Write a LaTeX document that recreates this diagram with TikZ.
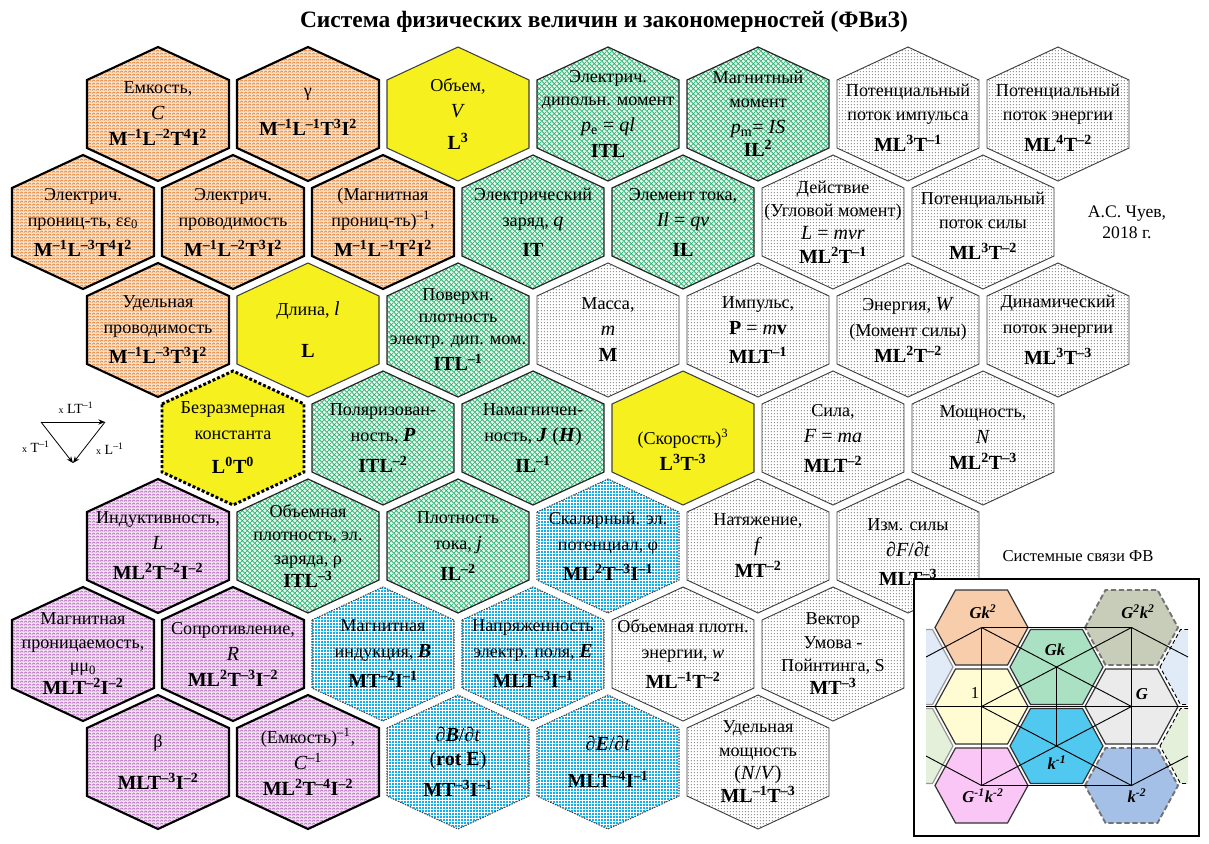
\documentclass[tikz,border=0pt]{standalone}
\usepackage{fontspec}
\setmainfont{Liberation Serif}
\usetikzlibrary{patterns,arrows.meta}

\pgfdeclarepatternformonly{zigzag}{\pgfqpoint{0pt}{0pt}}{\pgfqpoint{3pt}{2.4pt}}{\pgfqpoint{3pt}{2.4pt}}{%
  \pgfsetlinewidth{0.45pt}%
  \pgfpathmoveto{\pgfqpoint{0pt}{0.5pt}}%
  \pgfpathlineto{\pgfqpoint{1.5pt}{1.9pt}}%
  \pgfpathlineto{\pgfqpoint{3pt}{0.5pt}}%
  \pgfusepath{stroke}}
\pgfdeclarepatternformonly{finedots}{\pgfqpoint{0pt}{0pt}}{\pgfqpoint{2.4pt}{2.4pt}}{\pgfqpoint{2.4pt}{2.4pt}}{%
  \pgfpathcircle{\pgfqpoint{1.2pt}{1.2pt}}{0.5pt}%
  \pgfusepath{fill}}
\pgfdeclarepatternformonly{xhatch}{\pgfqpoint{0pt}{0pt}}{\pgfqpoint{3.6pt}{3.6pt}}{\pgfqpoint{3.6pt}{3.6pt}}{%
  \pgfsetlinewidth{0.45pt}%
  \pgfpathmoveto{\pgfqpoint{0pt}{0pt}}\pgfpathlineto{\pgfqpoint{3.6pt}{3.6pt}}%
  \pgfpathmoveto{\pgfqpoint{0pt}{3.6pt}}\pgfpathlineto{\pgfqpoint{3.6pt}{0pt}}%
  \pgfusepath{stroke}}
\pgfdeclarepatternformonly{fgrid}{\pgfqpoint{0pt}{0pt}}{\pgfqpoint{2.2pt}{2.2pt}}{\pgfqpoint{2.2pt}{2.2pt}}{%
  \pgfsetlinewidth{0.5pt}%
  \pgfpathmoveto{\pgfqpoint{0pt}{1.1pt}}\pgfpathlineto{\pgfqpoint{2.2pt}{1.1pt}}%
  \pgfpathmoveto{\pgfqpoint{1.1pt}{0pt}}\pgfpathlineto{\pgfqpoint{1.1pt}{2.2pt}}%
  \pgfusepath{stroke}}

\definecolor{orln}{RGB}{225,115,30}
\definecolor{orbg}{RGB}{250,228,205}
\definecolor{puln}{RGB}{170,85,180}
\definecolor{pubg}{RGB}{244,228,244}
\definecolor{grln}{RGB}{30,175,105}
\definecolor{grbg}{RGB}{232,246,238}
\definecolor{yel}{RGB}{245,240,30}
\definecolor{blu}{RGB}{20,175,235}
\definecolor{dotc}{RGB}{110,110,110}
\definecolor{ipeach}{RGB}{248,205,172}
\definecolor{igreen}{RGB}{170,225,195}
\definecolor{iolive}{RGB}{200,205,185}
\definecolor{iyel}{RGB}{255,252,212}
\definecolor{igray}{RGB}{235,235,235}
\definecolor{icyan}{RGB}{80,200,240}
\definecolor{ipink}{RGB}{250,198,245}
\definecolor{islate}{RGB}{165,192,230}
\definecolor{ilblue}{RGB}{225,235,248}
\definecolor{ilgreen}{RGB}{228,240,218}

\newcommand\su[1]{\textsuperscript{#1}}
\newcommand\dm[1]{{\fontsize{15}{19.5}\selectfont\bfseries #1}}
\newcommand\fm[1]{{\fontsize{15}{19.5}\selectfont #1}}

\tikzset{
  hexlabel/.style={align=center, inner sep=0pt, font=\fontsize{13.6}{19.5}\selectfont},
  orhex/.style={preaction={fill=orbg}, pattern=zigzag, pattern color=orln, draw=black, line width=1.6pt},
  puhex/.style={preaction={fill=pubg}, pattern=zigzag, pattern color=puln, draw=black, line width=1.6pt},
  grhex/.style={preaction={fill=grbg}, pattern=xhatch, pattern color=grln, draw=black!85, line width=0.9pt},
  yehex/.style={fill=yel, draw=black!75, line width=0.8pt},
  nulhex/.style={fill=yel, draw=black, line width=2.2pt, dash pattern=on 2.2pt off 1.6pt},
  bluhex/.style={preaction={fill=blu}, pattern=fgrid, pattern color=white, draw=black!75, line width=0.8pt, dash pattern=on 1pt off 1pt},
  dothex/.style={preaction={fill=white}, pattern=finedots, pattern color=dotc, draw=black!75, line width=0.7pt},
  insh/.style={draw=black!80, line width=0.9pt},
  insd/.style={draw=black!55, line width=1.4pt, dash pattern=on 4pt off 2pt},
  inlab/.style={font=\fontsize{12.5}{14}\selectfont\bfseries\itshape, inner sep=0pt},
  netline/.style={draw=black, line width=0.7pt},
  triarrow/.style={-{Stealth[length=5pt,width=4pt]}, line width=0.6pt},
  trilab/.style={font=\fontsize{10.5}{12}\selectfont, inner sep=0pt}
}

% pointy-top hexagon cell: [y offset of text]{name}{x}{y}{style}{text}
\newcommand\hx[6][0]{%
  \path[#5] ({#3-71},{#4-34}) -- (#3,{#4-67}) -- ({#3+71},{#4-34}) -- ({#3+71},{#4+34}) -- (#3,{#4+67}) -- ({#3-71},{#4+34}) -- cycle;
  \node[hexlabel] (#2) at (#3,{#4+(#1)}) {#6};}
% flat-top hexagon of the inset: {x}{y}{style}{name}
\newcommand\fhx[4]{%
  \path[#3] ({#1-46.5},#2) -- ({#1-26},{#2-37.5}) -- ({#1+26},{#2-37.5}) -- ({#1+46.5},#2) -- ({#1+26},{#2+37.5}) -- ({#1-26},{#2+37.5}) -- cycle;
  \coordinate (#4) at (#1,#2);}

\begin{document}
\begin{tikzpicture}[x=0.75pt,y=-0.75pt]
\useasboundingbox (0,0) rectangle (1209,843);

\node[font=\fontsize{17.6}{20}\selectfont\bfseries] (title) at (604,22) {Система физических величин и закономерностей (ФВиЗ)};

% Row 1
\hx{h11}{158}{114}{orhex}{Емкость,\\ \fm{\textit{C}}\\ \dm{M\su{–1}L\su{–2}T\su{4}I\su{2}}}
\hx[-2]{h12}{308}{114}{orhex}{γ\\[10pt] \dm{M\su{–1}L\su{–1}T\su{3}I\su{2}}}
\hx{h13}{458}{114}{yehex}{Объем,\\ \fm{\textit{V}}\\[4pt] \dm{L\su{3}}}
\hx{h14}{608}{114}{grhex}{Электрич.\\[-2pt] дипольн. момент\\ \fm{\textit{p}\textsubscript{e} = \textit{ql}}\\ \dm{ITL}}
\hx{h15}{758}{114}{grhex}{Магнитный\\[-2pt] момент\\ \fm{\textit{p}\textsubscript{m}= \textit{IS}}\\[-2pt] \dm{IL\su{2}}}
\hx[4]{h16}{908}{114}{dothex}{Потенциальный\\[-2pt] поток импульса\\[4pt] \dm{ML\su{3}T\su{–1}}}
\hx[4]{h17}{1058}{114}{dothex}{Потенциальный\\[-2pt] поток энергии\\[4pt] \dm{ML\su{4}T\su{–2}}}

% Row 2
\hx{h21}{83}{222}{orhex}{Электрич.\\ прониц-ть, εε\textsubscript{0}\\[3pt] \dm{M\su{–1}L\su{–3}T\su{4}I\su{2}}}
\hx{h22}{233}{222}{orhex}{Электрич.\\ проводимость\\[3pt] \dm{M\su{–1}L\su{–2}T\su{3}I\su{2}}}
\hx{h23}{383}{222}{orhex}{(Магнитная\\ прониц-ть)\su{–1},\\[3pt] \dm{M\su{–1}L\su{–1}T\su{2}I\su{2}}}
\hx{h24}{533}{222}{grhex}{Электрический\\ заряд, \fm{\textit{q}}\\[3pt] \dm{IT}}
\hx{h25}{683}{222}{grhex}{Элемент тока,\\ \fm{\textit{Il} = \textit{qv}}\\[3pt] \dm{IL}}
\hx{h26}{833}{222}{dothex}{Действие\\[-2pt] (Угловой момент)\\[-2pt] \fm{\textit{L} = \textit{mvr}}\\[-2pt] \dm{ML\su{2}T\su{–1}}}
\hx[4]{h27}{983}{222}{dothex}{Потенциальный\\[-2pt] поток силы\\[4pt] \dm{ML\su{3}T\su{–2}}}
\node[font=\fontsize{13.2}{15.5}\selectfont, align=center] (author) at (1127,222) {А.С. Чуев,\\ 2018 г.};

% Row 3
\hx{h31}{158}{330}{orhex}{Удельная\\ проводимость\\[3pt] \dm{M\su{–1}L\su{–3}T\su{3}I\su{2}}}
\hx{h32}{308}{330}{yehex}{Длина, \fm{\textit{l}}\\[12pt] \dm{L}}
\hx{h33}{458}{330}{grhex}{Поверхн.\\[-3pt] плотность\\[-3pt] электр. дип. мом.\\ \dm{ITL\su{–1}}}
\hx{h34}{608}{330}{dothex}{Масса,\\ \fm{\textit{m}}\\ \dm{M}}
\hx{h35}{758}{330}{dothex}{Импульс,\\ \fm{\textbf{P} = \textit{m}\textbf{v}}\\[2pt] \dm{MLT\su{–1}}}
\hx{h36}{908}{330}{dothex}{Энергия, \fm{\textit{W}}\\ (Момент силы)\\ \dm{ML\su{2}T\su{–2}}}
\hx{h37}{1058}{330}{dothex}{Динамический\\ поток энергии\\[4pt] \dm{ML\su{3}T\su{–3}}}

% Row 4
\hx{h41}{233}{438}{nulhex}{Безразмерная\\ константа\\[6pt] \dm{L\su{0}T\su{0}}}
\hx{h42}{383}{438}{grhex}{Поляризован-\\ ность, \fm{\textbf{\textit{P}}}\\[4pt] \dm{ITL\su{–2}}}
\hx{h43}{533}{438}{grhex}{Намагничен-\\ ность, \fm{\textbf{\textit{J}} (\textbf{\textit{H}})}\\[4pt] \dm{IL\su{–1}}}
\hx[12]{h44}{683}{438}{yehex}{(Скорость)\su{3}\\ \dm{L\su{3}T\su{-3}}}
\hx{h45}{833}{438}{dothex}{Сила,\\ \fm{\textit{F} = \textit{ma}}\\[3pt] \dm{MLT\su{–2}}}
\hx{h46}{983}{438}{dothex}{Мощность,\\ \fm{\textit{N}}\\ \dm{ML\su{2}T\su{–3}}}

% Row 5
\hx{h51}{158}{546}{puhex}{Индуктивность,\\ \fm{\textit{L}}\\[3pt] \dm{ML\su{2}T\su{–2}I\su{–2}}}
\hx{h52}{308}{546}{grhex}{Объемная\\[-2pt] плотность, эл.\\[-2pt] заряда, ρ\\[-2pt] \dm{ITL\su{–3}}}
\hx{h53}{458}{546}{grhex}{Плотность\\ тока, \fm{\textit{j}}\\[4pt] \dm{IL\su{–2}}}
\hx{h54}{608}{546}{bluhex}{Скалярный. эл.\\ потенциал, φ\\[3pt] \dm{ML\su{2}T\su{–3}I\su{–1}}}
\hx{h55}{758}{546}{dothex}{Натяжение,\\ \fm{\textit{f}}\\ \dm{MT\su{–2}}}
\hx[6]{h56}{908}{546}{dothex}{Изм. силы\\ \fm{\textit{∂F}/\textit{∂t}}\\[2pt] \dm{MLT\su{–3}}}

% Row 6
\hx{h61}{83}{654}{puhex}{Магнитная\\[-2pt] проницаемость,\\[-2pt] μμ\textsubscript{0}\\[-2pt] \dm{MLT\su{–2}I\su{–2}}}
\hx{h62}{233}{654}{puhex}{Сопротивление,\\ \fm{\textit{R}}\\ \dm{ML\su{2}T\su{–3}I\su{–2}}}
\hx{h63}{383}{654}{bluhex}{Магнитная\\ индукция, \fm{\textbf{\textit{B}}}\\[3pt] \dm{MT\su{–2}I\su{–1}}}
\hx{h64}{533}{654}{bluhex}{Напряженность\\ электр. поля, \fm{\textbf{\textit{E}}}\\[3pt] \dm{MLT\su{–3}I\su{–1}}}
\hx{h65}{683}{654}{dothex}{Объемная плотн.\\ энергии, \textit{w}\\[3pt] \dm{ML\su{–1}T\su{–2}}}
\hx{h66}{833}{654}{dothex}{Вектор\\[-2pt] Умова -\\[-2pt] Пойнтинга, S\\[-2pt] \dm{MT\su{–3}}}

% Row 7
\hx{h71}{158}{762}{puhex}{β\\[12pt] \dm{MLT\su{–3}I\su{–2}}}
\hx{h72}{308}{762}{puhex}{(Емкость)\su{–1},\\ \fm{\textit{C}\su{–1}}\\ \dm{ML\su{2}T\su{–4}I\su{–2}}}
\hx{h73}{458}{762}{bluhex}{\fm{\textit{∂}\textbf{\textit{B}}/\textit{∂t}}\\[-2pt] \fm{(\textbf{rot E})}\\[4pt] \dm{MT\su{–3}I\su{–1}}}
\hx{h74}{608}{762}{bluhex}{\fm{\textit{∂}\textbf{\textit{E}}/\textit{∂t}}\\[8pt] \dm{MLT\su{–4}I\su{–1}}}
\hx{h75}{758}{762}{dothex}{Удельная\\[-2pt] мощность\\[-2pt] \fm{(\textit{N}/\textit{V})}\\[-2pt] \dm{ML\su{–1}T\su{–3}}}

% small triangle
\coordinate (tA) at (41,422);
\coordinate (tB) at (105,422);
\coordinate (tC) at (73,463);
\draw[triarrow] (tA) -- (tB);
\draw[triarrow] (tA) -- (tC);
\draw[triarrow] (tB) -- (tC);
\node[trilab] (tl1) at (76,408) {{\fontsize{7.5}{8}\selectfont x} LT\su{–1}};
\node[trilab] (tl2) at (36,447) {{\fontsize{7.5}{8}\selectfont x} T\su{–1}};
\node[trilab] (tl3) at (110,449) {{\fontsize{7.5}{8}\selectfont x} L\su{–1}};

% inset
\node[font=\fontsize{12.5}{14}\selectfont] (instit) at (1078,556) {Системные связи ФВ};
\path[fill=white, draw=black, line width=0.9pt] (914,579) rectangle (1199,836);
\begin{scope}
\clip (926,583) rectangle (1188,832);
\fhx{906.5}{667}{insh, draw=black!40, fill=ilblue}{PL1}
\fhx{906.5}{746}{insh, draw=black!40, fill=ilgreen}{PL2}
\fhx{1206.5}{667}{fill=ilblue, draw=black, line width=0.7pt, dash pattern=on 3pt off 2pt}{PR1}
\fhx{1206.5}{746}{fill=ilgreen, draw=black, line width=0.7pt, dash pattern=on 3pt off 2pt}{PR2}
\fhx{981.5}{627.5}{insh, fill=ipeach}{A}
\fhx{981.5}{706.5}{insh, fill=iyel}{B}
\fhx{981.5}{785.5}{insh, fill=ipink}{C}
\fhx{1056.5}{667}{insh, fill=igreen}{D}
\fhx{1056.5}{746}{insh, fill=icyan}{E}
\fhx{1131.5}{627.5}{insd, fill=iolive}{F}
\fhx{1131.5}{706.5}{insh, fill=igray}{G}
\fhx{1131.5}{785.5}{insd, fill=islate}{H}
\coordinate (LA) at (926,657);
\coordinate (LC) at (926,756);
\coordinate (LB) at (926,706.5);
\coordinate (RF) at (1188,657);
\coordinate (RH) at (1188,756);
\coordinate (RG) at (1188,706.5);
\draw[netline] (A) -- (G);
\draw[netline] (C) -- (G);
\draw[netline] (B) -- (F);
\draw[netline] (B) -- (H);
\draw[netline] (A) -- (C);
\draw[netline] (D) -- (E);
\draw[netline] (F) -- (H);
\draw[netline] (LB) -- (RG);
\draw[netline] (A) -- (LA);
\draw[netline] (C) -- (LC);
\draw[netline] (F) -- (RF);
\draw[netline] (H) -- (RH);
\draw[netline] (A) -- (F);
\draw[netline] (C) -- (H);
\end{scope}
\node[inlab] (lA) at (983,612) {Gk\su{2}};
\node[inlab] (lF) at (1138,612) {G\su{2}k\su{2}};
\node[inlab] (lD) at (1055,650) {Gk};
\node[inlab, font=\fontsize{12.5}{14}\selectfont] (lB) at (975,693) {1};
\node[inlab] (lG) at (1142,694) {G};
\node[inlab] (lE) at (1057,763) {k\su{-1}};
\node[inlab] (lC) at (983,796) {G\su{-1}k\su{-2}};
\node[inlab] (lH) at (1137,796) {k\su{-2}};
\end{tikzpicture}
\end{document}
